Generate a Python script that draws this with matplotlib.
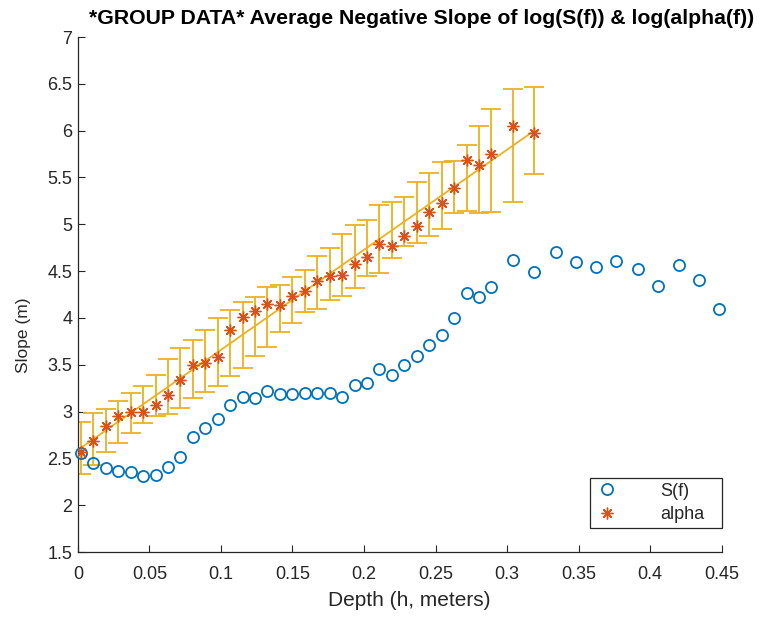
import numpy as np
import matplotlib
matplotlib.use("Agg")
import matplotlib.pyplot as plt
from matplotlib.patches import Rectangle

plt.rcParams['font.family'] = ['Liberation Sans', 'DejaVu Sans']

# Depth values (m)
depth_s = [0.0021, 0.0108, 0.0195, 0.0282, 0.0369, 0.0456, 0.0543, 0.0630, 0.0717,
           0.0804, 0.0890, 0.0978, 0.1064, 0.1151, 0.1238, 0.1325, 0.1412, 0.1499,
           0.1586, 0.1673, 0.1760, 0.1847, 0.1934, 0.2021, 0.2108, 0.2195, 0.2281,
           0.2369, 0.2455, 0.2542, 0.2629, 0.2717, 0.2803, 0.2890, 0.3038, 0.3191,
           0.3338, 0.3478, 0.3624, 0.3764, 0.3911, 0.4057, 0.4204, 0.4344, 0.4483]
slope_s = [2.56, 2.45, 2.40, 2.36, 2.35, 2.31, 2.32, 2.41, 2.52, 2.73, 2.82, 2.92,
           3.07, 3.16, 3.14, 3.22, 3.19, 3.19, 3.20, 3.20, 3.20, 3.16, 3.28, 3.31,
           3.45, 3.39, 3.50, 3.59, 3.71, 3.82, 4.00, 4.27, 4.22, 4.33, 4.62, 4.49,
           4.70, 4.60, 4.54, 4.61, 4.52, 4.34, 4.57, 4.41, 4.09]

depth_a = depth_s[:36]
slope_a = [2.57, 2.69, 2.85, 2.95, 3.00, 3.00, 3.07, 3.18, 3.34, 3.50, 3.52, 3.58,
           3.87, 4.01, 4.07, 4.15, 4.14, 4.23, 4.29, 4.39, 4.45, 4.46, 4.58, 4.65,
           4.79, 4.77, 4.88, 4.98, 5.13, 5.23, 5.39, 5.69, 5.63, 5.75, 6.05, 5.98]
err_a = [0.28, 0.28, 0.23, 0.226, 0.21, 0.20, 0.219, 0.294, 0.32, 0.31, 0.33, 0.363,
         0.352, 0.353, 0.315, 0.32, 0.25, 0.242, 0.223, 0.281, 0.28, 0.333, 0.34, 0.299,
         0.362, 0.299, 0.262, 0.324, 0.338, 0.362, 0.278, 0.356, 0.468, 0.547, 0.604, 0.468]

c_s = '#0072BD'
c_a = '#D95319'
c_e = '#EDB120'
c_txt = '#262626'

fig = plt.figure(figsize=(7.63, 6.22), dpi=100)
ax = fig.add_axes([0.102, 0.1125, 0.844, 0.828])

xa = np.array(depth_a)
coef = np.polyfit(xa, np.array(slope_a), 1)
fit = np.polyval(coef, xa)

ax.errorbar(xa, fit, yerr=err_a, color=c_e, lw=1.3, capsize=7, elinewidth=1.3,
            capthick=1.3, zorder=2)
ax.plot(depth_s, slope_s, 'o', mfc='none', mec=c_s, ms=8, mew=1.3, label='S(f)',
        zorder=3, clip_on=False)
ax.plot(depth_a, slope_a, ls='none', marker=(8, 2, 0), color=c_a, ms=8.5, mew=1.0,
        label='alpha', zorder=4)

ax.set_xlim(0, 0.45)
ax.set_ylim(1.5, 7)
ax.set_xticks(np.arange(0, 0.451, 0.05))
ax.set_xticklabels(['0', '0.05', '0.1', '0.15', '0.2', '0.25', '0.3', '0.35', '0.4', '0.45'])
ax.set_yticks(np.arange(1.5, 7.01, 0.5))
ax.set_yticklabels(['1.5', '2', '2.5', '3', '3.5', '4', '4.5', '5', '5.5', '6', '6.5', '7'])
ax.tick_params(direction='in', labelsize=13, colors=c_txt, length=5, width=0.8)
ax.tick_params(axis='x', pad=10)
ax.tick_params(axis='y', pad=4)
for s in ['top', 'right']:
    ax.spines[s].set_visible(False)
for s in ['left', 'bottom']:
    ax.spines[s].set_color(c_txt)
    ax.spines[s].set_linewidth(0.9)

ax.set_xlabel('Depth (h, meters)', fontsize=15, color=c_txt)
ax.xaxis.set_label_coords(0.514, -0.076)
ax.set_ylabel('Slope (m)', fontsize=12.5, color=c_txt)
ax.yaxis.set_label_coords(-0.072, 0.421)
ax.set_title('*GROUP DATA* Average Negative Slope of log(S(f)) & log(alpha(f))',
             fontsize=15.3, fontweight='bold', color='black', x=0.533, y=1.0, pad=9.5)

# legend frame (MATLAB-like box) and legend entries
frame = Rectangle((0.795, 0.0466), 0.205, 0.097, transform=ax.transAxes,
                  facecolor='white', edgecolor=c_txt, lw=0.9, zorder=4.8, clip_on=False)
ax.add_patch(frame)
leg = ax.legend(loc='upper left', bbox_to_anchor=(0.8075, 0.1346), borderaxespad=0,
                fontsize=13, frameon=False, handlelength=1.0, handletextpad=2.44,
                borderpad=0, labelspacing=0.36)
leg.set_zorder(5)
for t in leg.get_texts():
    t.set_color(c_txt)

fig.savefig('out.png', dpi=100)
